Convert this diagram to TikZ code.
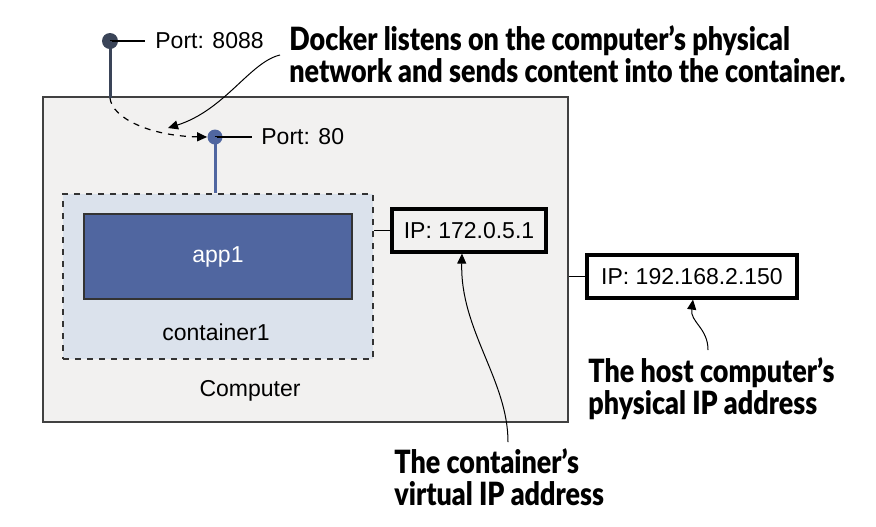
\documentclass[tikz,border=0pt]{standalone}
\usepackage{fontspec}
\setmainfont{Liberation Sans}
\newfontfamily\notefont[FakeStretch=0.84, BoldFont={Lato Black}]{Lato}
\usetikzlibrary{arrows.meta, positioning, calc}
\definecolor{hostgray}{RGB}{242,241,240}
\definecolor{contblue}{RGB}{219,226,236}
\definecolor{appblue}{RGB}{80,102,160}
\definecolor{portdark}{RGB}{58,68,88}
\definecolor{edgegray}{RGB}{65,65,65}
\tikzset{
	ipbox/.style={draw, line width=1.6pt, inner sep=0pt, minimum height=21.5pt, font=\fontsize{11.5}{13}\selectfont},
	notetext/.style={font=\notefont\bfseries\fontsize{16}{16}\selectfont, align=left, anchor=north west, inner sep=0pt},
	notearr/.style={-{Triangle[length=5pt, width=4.5pt]}, line width=0.5pt},
	portdot/.style={circle, fill=#1, inner sep=0pt, minimum size=7.5pt},
}

\begin{document}
\begin{tikzpicture}[
		x=0.5pt, y=-0.5pt,
		hostbox/.style={draw=edgegray, fill=hostgray, line width=0.6pt, inner sep=0pt},
		plaintext/.style={font=\fontsize{11.5}{13}\selectfont, inner sep=0pt},
		>=Stealth
	]
		\useasboundingbox (0,0) rectangle (876,526);

		% Computer and container
		\node[hostbox, minimum width=262.5pt, minimum height=162.5pt] (computer) at (305.5,259.5) {};
		\node[draw=black!80, dashed, fill=contblue, line width=0.6pt, minimum width=155pt, minimum height=82.5pt] (cont) at (218,276.5) {};
		\node[draw=black!80, fill=appblue, line width=0.6pt, minimum width=134pt, minimum height=42.5pt, plaintext, text=white] (app) at (218,256.5) {app1};
		\node[plaintext] (contlbl) at (216,332) {container1};
		\node[plaintext] (complbl) at (250,391) {Computer};

		% IP addresses
		\node[ipbox, fill=hostgray, minimum width=77pt] (ipcont) at (469,230.5) {IP: 172.0.5.1};
		\node[ipbox, fill=white, minimum width=105pt] (iphost) at (692,276.5) {IP: 192.168.2.150};
		\draw[line width=0.6pt] (ipcont.west) -- (ipcont.west -| cont.east);
		\draw[line width=0.6pt] (iphost.west) -- (iphost.west -| computer.east);

		% Ports
		\node[portdot=portdark, minimum size=8pt] (p8088) at (110,41) {};
		\node[portdot=appblue] (p80) at (215,137) {};
		\node[plaintext, anchor=west] (l8088) at (155,41) {Port: 8088};
		\node[plaintext, anchor=west] (l80) at (261,137) {Port: 80};
		\draw[line width=0.6pt] (p80.center) -- ($(l80.west)+(-9,0)$);
		\draw[line width=0.6pt] (p8088.center) -- ($(l8088.west)+(-10,0)$);
		\coordinate (drop) at (110,98);
		\draw[portdark, line width=1.5pt] (p8088.center) -- (drop);
		\draw[appblue, line width=1.5pt] (p80.center) -- (p80 |- cont.north);
		\draw[dashed, line width=0.6pt, -{Triangle[length=5pt, width=4.5pt]}] (drop) .. controls (112,118) and (150,136) .. (p80.west);

		% Notes
		\node[notetext] (dnote) at (289,25) {Docker listens on the computer’s physical\\network and sends content into the container.};
		\node[notetext] (hnote) at (588,357) {The host computer’s\\physical IP address};
		\node[notetext] (cnote) at (394,448) {The container’s\\virtual IP address};
		\coordinate (dtail) at (280,55);
		\coordinate (htail) at (708,350);
		\coordinate (ctail) at (508,442);
		\draw[notearr] (dtail) .. controls (250,62) and (225,110) .. (168,128);
		\draw[notearr] (htail) .. controls (708,328) and (690,322) .. (iphost.south -| 693,0);
		\draw[notearr] (ctail) .. controls (508,380) and (460,330) .. (ipcont.south -| 462,0);
	\end{tikzpicture}
\end{document}
